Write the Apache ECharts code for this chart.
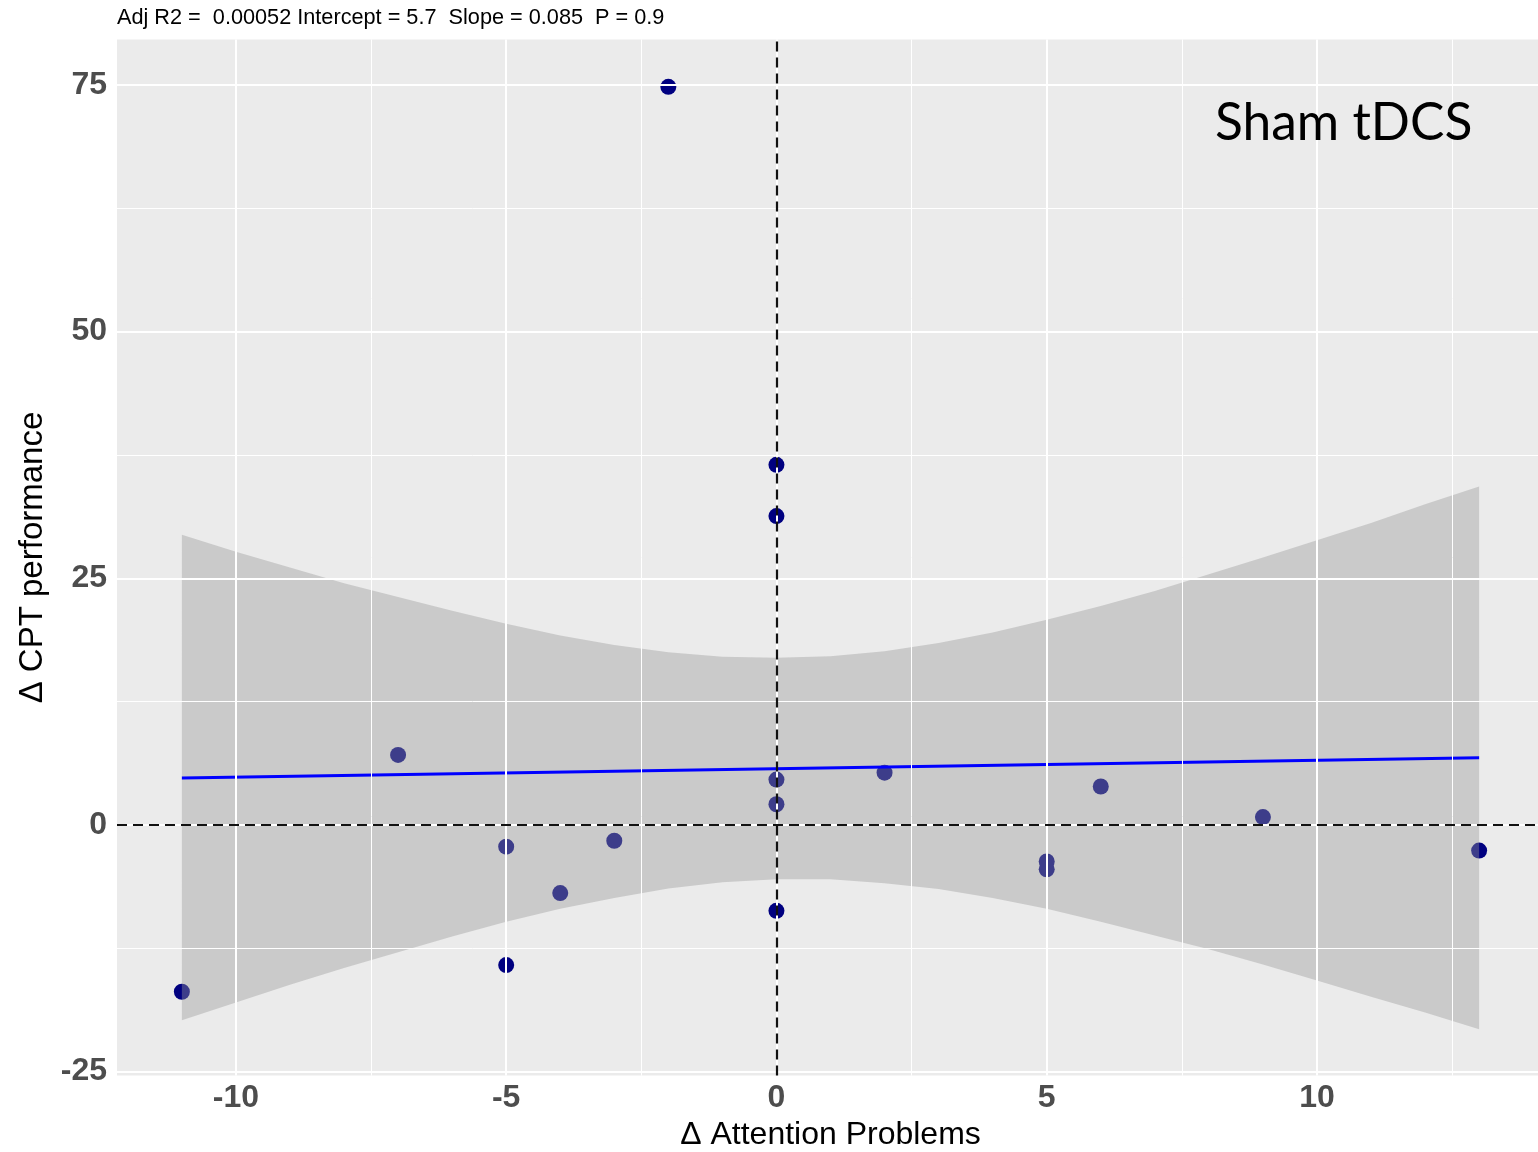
<!DOCTYPE html>
<html><head><meta charset="utf-8">
<script src="https://cdn.jsdelivr.net/npm/echarts@6/dist/echarts.min.js"></script>
<style>html,body{margin:0;padding:0;background:#fff}#chart{width:1538px;height:1152px}</style>
</head><body><div id="chart"></div>
<script>
// Data points (Δ Attention Problems, Δ CPT performance)
const pointX = [-11, -7, -5, -5, -4, -3, -2, 0, 0, 0, 0, 0, 2, 5, 5, 6, 9, 13];
const pointY = [-16.9, 7.1, -2.2, -14.2, -6.9, -1.6, 74.8, 36.5, 31.3, 4.6, 2.1, -8.7, 5.3, -3.7, -4.5, 3.9, 0.8, -2.6];

// Fitted regression line endpoints
const fitX = [-11, 13];
const fitY = [4.77, 6.81];

// Confidence band edges
const bandX = [-11, -10, -9, -8, -7, -6, -5, -4, -3, -2, -1, 0, 1, 2, 3, 4, 5, 6, 7, 8, 9, 10, 11, 12, 13];
const bandUpper = [29.4, 27.7, 26.1, 24.5, 23.1, 21.7, 20.4, 19.2, 18.25, 17.5, 17.05, 16.95, 17.1, 17.6, 18.45, 19.5, 20.8, 22.2, 23.7, 25.4, 27.1, 28.85, 30.6, 32.5, 34.3];
const bandLower = [-19.8, -18.0, -16.2, -14.5, -12.9, -11.3, -9.8, -8.5, -7.4, -6.45, -5.8, -5.5, -5.5, -5.9, -6.5, -7.4, -8.5, -9.8, -11.2, -12.6, -14.15, -15.75, -17.4, -19.0, -20.7];

// Ticks / grid
const majorX = [-10, -5, 0, 5, 10];
const minorX = [-7.5, -2.5, 2.5, 7.5, 12.5];
const majorY = [-25, 0, 25, 50, 75];
const minorY = [-12.5, 12.5, 37.5, 62.5];

const statsText = 'Adj R2 =  0.00052 Intercept = 5.7  Slope = 0.085  P = 0.9';
const panelLabel = 'Sham tDCS';

const FONT = '"Liberation Sans", Arial, sans-serif';
const chart = echarts.init(document.getElementById('chart'), null, {renderer: 'canvas'});

const gridLines = majorX.map(v => ({xAxis: v, lineStyle: {width: 2}}))
  .concat(majorY.map(v => ({yAxis: v, lineStyle: {width: 2}})))
  .concat(minorX.map(v => ({xAxis: v, lineStyle: {width: 1}})))
  .concat(minorY.map(v => ({yAxis: v, lineStyle: {width: 1}})));

const option = {
  animation: false,
  backgroundColor: '#ffffff',
  grid: {left: 117, right: -6, top: 39.5, bottom: 76.4, show: true, backgroundColor: '#EBEBEB', borderWidth: 0,
    containLabel: false, outerBoundsMode: 'none'},
  xAxis: {
    type: 'value', min: -12.2, max: 14.2,
    name: 'Δ Attention Problems', nameLocation: 'middle', nameGap: 40,
    nameTextStyle: {fontFamily: FONT, fontSize: 32, color: '#000'},
    axisLine: {show: false},
    axisTick: {show: true, length: 5, customValues: majorX, lineStyle: {color: '#333', width: 1.5}},
    axisLabel: {customValues: majorX, fontFamily: FONT, fontSize: 32, fontWeight: 'bold', color: '#4D4D4D', margin: 7,
      formatter: v => (majorX.indexOf(v) >= 0 ? String(v) : '')},
    splitLine: {show: false}
  },
  yAxis: {
    type: 'value', min: -25.4, max: 79.6,
    name: 'Δ CPT performance', nameLocation: 'middle', nameGap: 68, nameRotate: 90,
    nameTextStyle: {fontFamily: FONT, fontSize: 33, color: '#000'},
    axisLine: {show: false},
    axisTick: {show: true, length: 5, customValues: majorY, lineStyle: {color: '#333', width: 1.5}},
    axisLabel: {customValues: majorY, fontFamily: FONT, fontSize: 32, fontWeight: 'bold', color: '#4D4D4D', margin: 10,
      formatter: v => (majorY.indexOf(v) >= 0 ? String(v) : '')},
    splitLine: {show: false}
  },
  series: [
    {
      type: 'line', data: [], z: 1, silent: true,
      markLine: {silent: true, symbol: 'none', label: {show: false}, animation: false,
        lineStyle: {color: '#ffffff', type: 'solid'}, data: gridLines}
    },
    {
      type: 'scatter', z: 2, symbol: 'circle', symbolSize: 16,
      itemStyle: {color: '#000080', opacity: 1},
      data: pointX.map((x, i) => [x, pointY[i]])
    },
    {
      type: 'custom', z: 3, silent: true,
      data: [[bandX[0], bandUpper[0]]],
      renderItem: function (params, api) {
        if (params.dataIndex !== 0) return;
        const pts = [];
        for (let i = 0; i < bandX.length; i++) pts.push(api.coord([bandX[i], bandUpper[i]]));
        for (let i = bandX.length - 1; i >= 0; i--) pts.push(api.coord([bandX[i], bandLower[i]]));
        return {type: 'polygon', shape: {points: pts}, style: {fill: 'rgba(153,153,153,0.4)'}};
      }
    },
    {
      type: 'line', z: 4, showSymbol: false, silent: true,
      lineStyle: {color: '#0000FF', width: 3},
      data: fitX.map((x, i) => [x, fitY[i]])
    },
    {
      type: 'line', data: [], z: 5, silent: true,
      markLine: {silent: true, symbol: 'none', label: {show: false}, animation: false,
        lineStyle: {color: '#111', width: 2.2, type: [10, 6]},
        data: [{xAxis: 0}, {yAxis: 0}]}
    }
  ],
  graphic: [
    {type: 'text', left: 117, top: 7, z: 10,
      style: {text: statsText, font: '21.7px "Liberation Sans", Arial, sans-serif', fill: '#000'}},
    {type: 'text', left: 1215, top: 97, z: 10,
      style: {text: panelLabel, font: '51.5px Lato, "Open Sans", sans-serif', fill: '#000'}}
  ]
};
chart.setOption(option);
</script>
</body></html>
